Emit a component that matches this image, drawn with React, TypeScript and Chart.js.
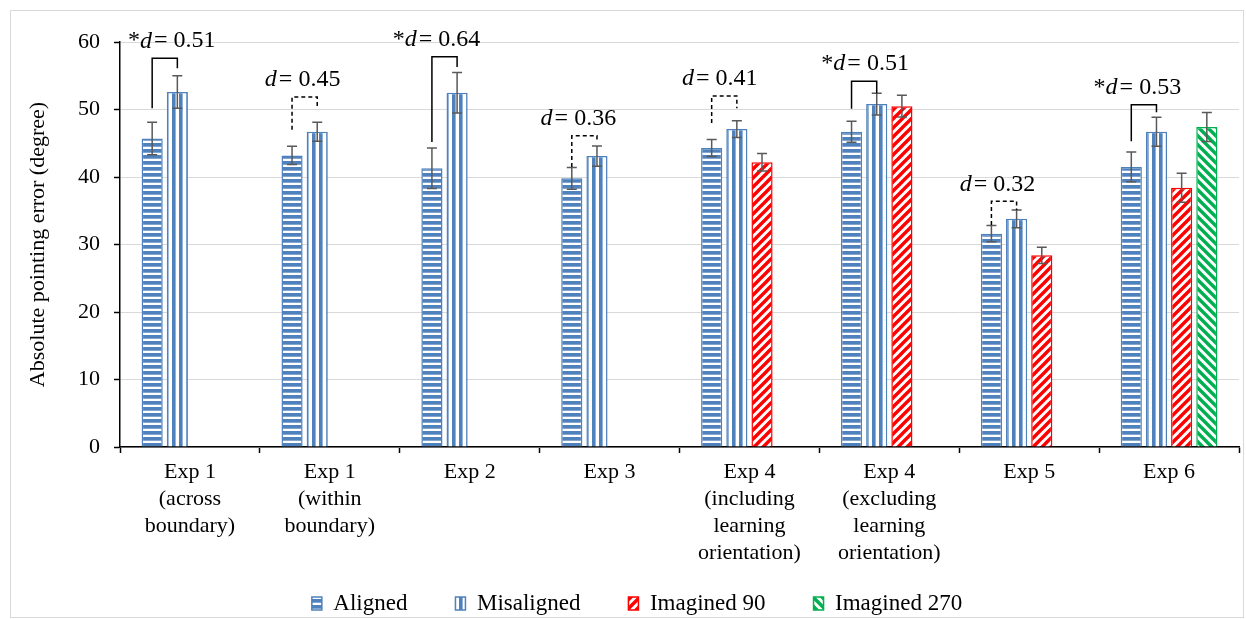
import React, { useEffect, useRef } from "react";
import { Chart, registerables } from "chart.js";
Chart.register(...registerables);

const FONT = "'Liberation Serif', 'Times New Roman', serif";

const categories: string[][] = [
  ["Exp 1", "(across", "boundary)"],
  ["Exp 1", "(within", "boundary)"],
  ["Exp 2"],
  ["Exp 3"],
  ["Exp 4", "(including", "learning", "orientation)"],
  ["Exp 4", "(excluding", "learning", "orientation)"],
  ["Exp 5"],
  ["Exp 6"],
];

const seriesNames = ["Aligned", "Misaligned", "Imagined 90", "Imagined 270"];

const aligned = [45.7, 43.2, 41.3, 39.8, 44.3, 46.7, 31.6, 41.5];
const alignedErr = [2.4, 1.35, 3.0, 1.6, 1.25, 1.55, 1.2, 2.2];
const misaligned = [52.6, 46.7, 52.5, 43.1, 47.1, 50.8, 33.8, 46.7];
const misalignedErr = [2.4, 1.4, 3.0, 1.5, 1.25, 1.6, 1.3, 2.15];
const imagined90 = [null, null, null, null, 42.2, 50.5, 28.4, 38.4];
const imagined90Err = [0, 0, 0, 0, 1.3, 1.6, 1.2, 2.15];
const imagined270 = [null, null, null, null, null, null, null, 47.4];
const imagined270Err = [0, 0, 0, 0, 0, 0, 0, 2.15];

// effect-size annotations (Aligned vs Misaligned)
const dValues = ["0.51", "0.45", "0.64", "0.36", "0.41", "0.51", "0.32", "0.53"];
const dSignificant = [true, false, true, false, false, true, false, true];
const bracketLeftEnd = [50.2, 47.0, 45.2, 41.5, 48.0, 50.1, 32.9, 45.3];
const bracketTop = [57.6, 51.85, 57.8, 46.1, 52.0, 54.2, 36.4, 50.7];
const bracketRightEnd = [56.1, 50.4, 56.3, 45.2, 50.2, 52.4, 35.1, 49.6];
const labelDx = [7, -2, -8, -6, -4.5, 1, -6.5, -6.5];

const yTicksMin = 0;
const yTicksMax = 60;
const yTicksStep = 10;

const BLUE = "#4F81BD";
const RED = "#FF0000";
const GREEN = "#00B050";

function makePattern(kind: string, color: string): CanvasPattern | string {
  const c = document.createElement("canvas");
  const ctx = c.getContext("2d");
  if (!ctx) return color;
  if (kind === "h") {
    c.width = 6; c.height = 6;
    ctx.fillStyle = "#fff"; ctx.fillRect(0, 0, 6, 6);
    ctx.fillStyle = color; ctx.fillRect(0, 0, 6, 3.7);
  } else if (kind === "v") {
    c.width = 7; c.height = 7;
    ctx.fillStyle = "#fff"; ctx.fillRect(0, 0, 7, 7);
    ctx.fillStyle = color; ctx.fillRect(0, 0, 3.6, 7);
  } else {
    const P = 9;
    c.width = P; c.height = P;
    ctx.fillStyle = "#fff"; ctx.fillRect(0, 0, P, P);
    ctx.strokeStyle = color; ctx.lineWidth = 3.4; ctx.lineCap = "square";
    ctx.beginPath();
    if (kind === "up") {
      ctx.moveTo(0, P); ctx.lineTo(P, 0);
      ctx.moveTo(-1, 1); ctx.lineTo(1, -1);
      ctx.moveTo(P - 1, P + 1); ctx.lineTo(P + 1, P - 1);
    } else {
      ctx.moveTo(0, 0); ctx.lineTo(P, P);
      ctx.moveTo(-1, P - 1); ctx.lineTo(1, P + 1);
      ctx.moveTo(P - 1, -1); ctx.lineTo(P + 1, 1);
    }
    ctx.stroke();
  }
  const pat = ctx.createPattern(c, "repeat");
  return pat || color;
}

const seriesValues = [aligned, misaligned, imagined90, imagined270];
const seriesErrs = [alignedErr, misalignedErr, imagined90Err, imagined270Err];

const errorBarPlugin = {
  id: "errorBars",
  afterDatasetsDraw(chart: any) {
    const ctx = chart.ctx;
    const ys = chart.scales.y;
    ctx.save();
    ctx.strokeStyle = "#595959";
    ctx.lineWidth = 1.5;
    seriesValues.forEach((vals, di) => {
      const meta = chart.getDatasetMeta(di);
      meta.data.forEach((el: any, i: number) => {
        const v = vals[i];
        if (v == null) return;
        const e = seriesErrs[di][i];
        const x = el.x;
        const yt = ys.getPixelForValue(v + e);
        const yb = ys.getPixelForValue(v - e);
        ctx.beginPath();
        ctx.moveTo(x, yt); ctx.lineTo(x, yb);
        ctx.moveTo(x - 5, yt); ctx.lineTo(x + 5, yt);
        ctx.moveTo(x - 5, yb); ctx.lineTo(x + 5, yb);
        ctx.stroke();
      });
    });
    ctx.restore();
  },
};

const bracketPlugin = {
  id: "brackets",
  afterDraw(chart: any) {
    const ctx = chart.ctx;
    const ys = chart.scales.y;
    const m0 = chart.getDatasetMeta(0);
    const m1 = chart.getDatasetMeta(1);
    ctx.save();
    dValues.forEach((d, i) => {
      const xl = m0.data[i].x;
      const xr = m1.data[i].x;
      const yl = ys.getPixelForValue(bracketLeftEnd[i]);
      const yt = ys.getPixelForValue(bracketTop[i]);
      const yr = ys.getPixelForValue(bracketRightEnd[i]);
      ctx.strokeStyle = "#000";
      ctx.lineWidth = 1.5;
      ctx.setLineDash(dSignificant[i] ? [] : [4, 3]);
      ctx.beginPath();
      ctx.moveTo(xl, yl); ctx.lineTo(xl, yt); ctx.lineTo(xr, yt); ctx.lineTo(xr, yr);
      ctx.stroke();
      ctx.setLineDash([]);
      // label
      const star = dSignificant[i] ? "*" : "";
      const rest = "= " + d;
      const normal = `24px ${FONT}`;
      const italic = `italic 24px ${FONT}`;
      ctx.font = normal;
      const wStar = ctx.measureText(star).width;
      const wRest = ctx.measureText(rest).width;
      ctx.font = italic;
      const wD = ctx.measureText("d").width;
      const gap = 2;
      const total = wStar + wD + gap + wRest;
      const cx = (xl + xr) / 2 + labelDx[i];
      let x = cx - total / 2;
      const y = yt - 17;
      ctx.fillStyle = "#000";
      ctx.textBaseline = "middle";
      ctx.textAlign = "left";
      ctx.font = normal;
      ctx.fillText(star, x, y);
      x += wStar;
      ctx.font = italic;
      ctx.fillText("d", x, y);
      x += wD + gap;
      ctx.font = normal;
      ctx.fillText(rest, x, y);
    });
    ctx.restore();
  },
};

const legendShiftPlugin = {
  id: "legendShift",
  afterUpdate(chart: any) {
    if (chart.legend) {
      chart.legend.top -= 28;
      chart.legend.bottom -= 28;
      chart.legend.left += 12;
      chart.legend.right += 12;
    }
  },
};

const CANVAS_W = 1232;
const CANVAS_H = 642;

export default function App() {
  const ref = useRef<HTMLCanvasElement | null>(null);
  useEffect(() => {
    if (!ref.current) return;
    const patterns = [
      makePattern("h", BLUE),
      makePattern("v", BLUE),
      makePattern("up", RED),
      makePattern("down", GREEN),
    ];
    const borders = [BLUE, BLUE, RED, GREEN];
    const chart = new Chart(ref.current, {
      type: "bar",
      data: {
        labels: categories as any,
        datasets: seriesValues.map((vals, i) => ({
          label: seriesNames[i],
          data: vals as any,
          backgroundColor: patterns[i] as any,
          borderColor: borders[i],
          borderWidth: 1.5,
          categoryPercentage: 0.72,
          barPercentage: 0.84,
        })),
      },
      options: {
        responsive: false,
        animation: false,
        layout: { padding: { top: 31, right: 4, left: 0, bottom: 0 } },
        plugins: {
          tooltip: { enabled: false },
          legend: {
            position: "bottom",
            labels: {
              font: { family: FONT, size: 23 },
              color: "#000",
              boxWidth: 10,
              boxHeight: 13,
              padding: 48,
            },
          },
        },
        scales: {
          x: {
            grid: {
              offset: true,
              drawOnChartArea: false,
              drawTicks: true,
              tickLength: 6,
              tickColor: "#000",
              tickWidth: 1.5,
            },
            border: { color: "#000", width: 1.5 },
            ticks: {
              font: { family: FONT, size: 22, lineHeight: 1.23 },
              color: "#000",
              padding: 6,
              maxRotation: 0,
              autoSkip: false,
            },
            afterFit: (s: any) => {
              s.height = 125;
            },
          },
          y: {
            min: yTicksMin,
            max: yTicksMax,
            ticks: {
              stepSize: yTicksStep,
              font: { family: FONT, size: 22 },
              color: "#000",
              padding: 14,
            },
            grid: {
              color: "#d9d9d9",
              lineWidth: 1,
              tickColor: "#000",
              tickLength: 6,
              tickWidth: 1.5,
            },
            border: { color: "#000", width: 1.5 },
            title: {
              display: true,
              text: "Absolute pointing error (degree)",
              font: { family: FONT, size: 22 },
              color: "#000",
              padding: { top: 14, bottom: 0 },
            },
            afterFit: (s: any) => {
              s.width = 109;
            },
          },
        },
      },
      plugins: [errorBarPlugin, bracketPlugin, legendShiftPlugin],
    });
    return () => chart.destroy();
  }, []);

  return (
    <div
      style={{
        position: "absolute",
        left: 10,
        top: 10,
        width: 1234,
        height: 608,
        border: "1px solid #d9d9d9",
        boxSizing: "border-box",
        overflow: "hidden",
        background: "#fff",
      }}
    >
      <canvas
        ref={ref}
        width={CANVAS_W}
        height={CANVAS_H}
        style={{ width: CANVAS_W, height: CANVAS_H, display: "block" }}
      />
    </div>
  );
}
